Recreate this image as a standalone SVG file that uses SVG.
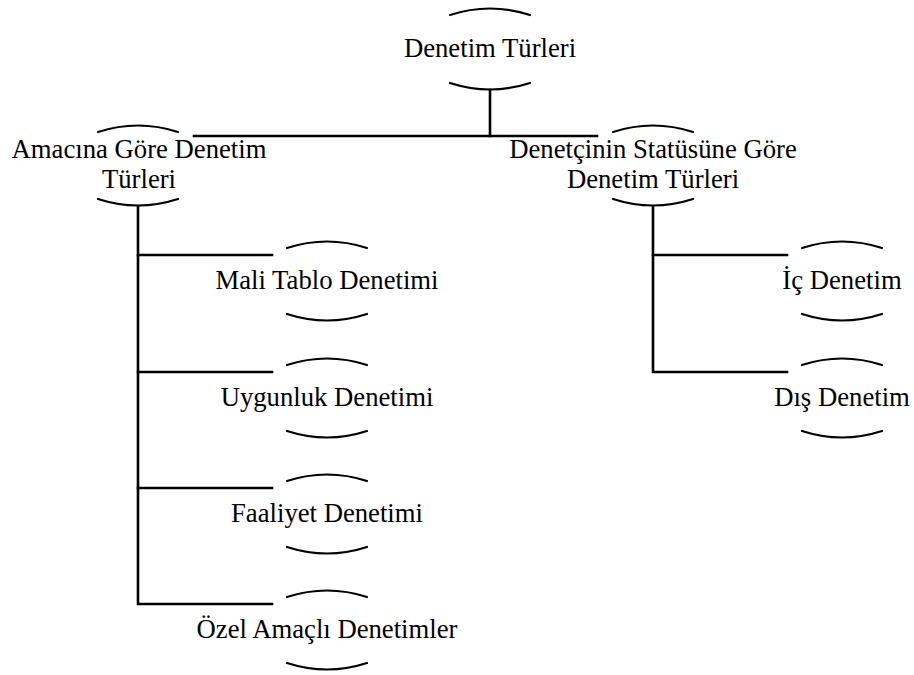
<svg xmlns="http://www.w3.org/2000/svg" width="914" height="675" viewBox="0 0 914 675">
  <style>
    .bg { fill: #ffffff; }
    .lbl { font-family: 'Liberation Serif', 'Times New Roman', serif; font-size: 26.7px; fill: #000000; text-anchor: middle; }
    .arc { fill: none; stroke: #000000; stroke-width: 2.2; stroke-linecap: round; }
    .link { fill: none; stroke: #000000; stroke-width: 2.6; stroke-linecap: square; }
  </style>
  <defs>
    <!-- bracket arcs, centred on x=0: top arc above text, bottom arc below -->
    <path id="arcTop" class="arc" d="M -40 7 Q 0 -6 40 7"/>
    <path id="arcBot" class="arc" d="M -40 0 Q 0 13 40 0"/>
  </defs>
  <rect class="bg" x="0" y="0" width="914" height="675"/>

  <!-- tree connectors -->
  <g id="connectors">
    <line class="link" x1="490" y1="90" x2="490" y2="136"/>
    <line class="link" x1="194" y1="136" x2="597" y2="136"/>
    <!-- left branch -->
    <polyline class="link" points="138,207 138,604 272,604"/>
    <line class="link" x1="138" y1="255" x2="272" y2="255"/>
    <line class="link" x1="138" y1="372" x2="272" y2="372"/>
    <line class="link" x1="138" y1="488" x2="272" y2="488"/>
    <!-- right branch -->
    <polyline class="link" points="653,207 653,372 787,372"/>
    <line class="link" x1="653" y1="255" x2="787" y2="255"/>
  </g>

  <g id="root">
    <use href="#arcTop" x="490" y="8"/>
    <text class="lbl" x="490" y="57">Denetim Türleri</text>
    <use href="#arcBot" x="490" y="83"/>
  </g>

  <g id="purpose">
    <use href="#arcTop" x="138" y="125"/>
    <text class="lbl" x="139" y="158">Amacına Göre Denetim</text>
    <text class="lbl" x="139" y="188">Türleri</text>
    <use href="#arcBot" x="138" y="199"/>
  </g>

  <g id="status">
    <use href="#arcTop" x="653" y="125"/>
    <text class="lbl" x="653" y="158">Denetçinin Statüsüne Göre</text>
    <text class="lbl" x="653" y="188">Denetim Türleri</text>
    <use href="#arcBot" x="653" y="199"/>
  </g>

  <g id="financial">
    <use href="#arcTop" x="327" y="241"/>
    <text class="lbl" x="327" y="289">Mali Tablo Denetimi</text>
    <use href="#arcBot" x="327" y="314"/>
  </g>

  <g id="compliance">
    <use href="#arcTop" x="327" y="358"/>
    <text class="lbl" x="327" y="406">Uygunluk Denetimi</text>
    <use href="#arcBot" x="327" y="431"/>
  </g>

  <g id="operational">
    <use href="#arcTop" x="327" y="474"/>
    <text class="lbl" x="327" y="522">Faaliyet Denetimi</text>
    <use href="#arcBot" x="327" y="547"/>
  </g>

  <g id="special">
    <use href="#arcTop" x="327" y="590"/>
    <text class="lbl" x="327" y="638">Özel Amaçlı Denetimler</text>
    <use href="#arcBot" x="327" y="663"/>
  </g>

  <g id="internal">
    <use href="#arcTop" x="842" y="241"/>
    <text class="lbl" x="842" y="289">İç Denetim</text>
    <use href="#arcBot" x="842" y="314"/>
  </g>

  <g id="external">
    <use href="#arcTop" x="842" y="358"/>
    <text class="lbl" x="842" y="406">Dış Denetim</text>
    <use href="#arcBot" x="842" y="431"/>
  </g>
</svg>
